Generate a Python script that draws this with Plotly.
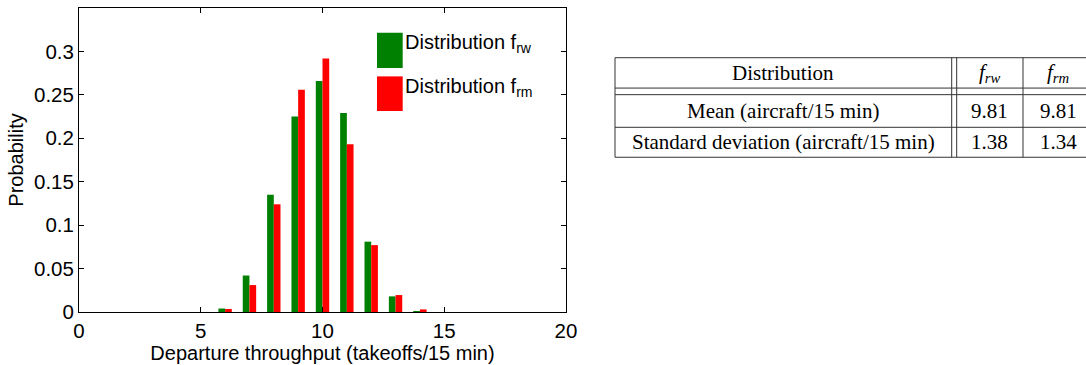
import plotly.graph_objects as go

# ---------------- data ----------------
throughput = list(range(0, 21))
f_rw = [0, 0, 0, 0, 0, 0, 0.004, 0.042, 0.135, 0.225, 0.266, 0.229, 0.081, 0.018, 0.001,
        0, 0, 0, 0, 0, 0]
f_rm = [0, 0, 0, 0, 0, 0, 0.0035, 0.031, 0.124, 0.256, 0.292, 0.193, 0.077, 0.0195, 0.003,
        0, 0, 0, 0, 0, 0]
series_names = ["Distribution f<sub>rw</sub>", "Distribution f<sub>rm</sub>"]
series_colors = ["#008000", "#ff0000"]
y_ticks = [0, 0.05, 0.1, 0.15, 0.2, 0.25, 0.3]
x_ticks = [0, 5, 10, 15, 20]

table_header = ["Distribution", "<i>f<sub>rw</sub></i>", "<i>f<sub>rm</sub></i>"]
table_rows = [
    ["Mean (aircraft/15 min)", "9.81", "9.81"],
    ["Standard deviation (aircraft/15 min)", "1.38", "1.34"],
]

# ---------------- layout geometry (pixels) ----------------
W, H = 1086, 365
PL, PR, PT, PB = 79, 566, 7.5, 312   # plot area in pixels


def px_x(px):
    return (px - PL) / (PR - PL)


def px_y(py):
    return (PB - py) / (PB - PT)


fig = go.Figure()
for name, vals, col in zip(series_names, [f_rw, f_rm], series_colors):
    fig.add_trace(go.Bar(x=throughput, y=vals, name=name, marker_color=col,
                         marker_line_width=0, showlegend=False))

sans = "Liberation Sans, Arial, Helvetica, sans-serif"
serif = "Liberation Serif, Times New Roman, serif"

fig.update_layout(
    width=W, height=H,
    margin=dict(l=PL, r=W - PR, t=PT, b=H - PB, pad=0),
    paper_bgcolor="white", plot_bgcolor="white",
    barmode="group", bargap=0.45, bargroupgap=0,
    font=dict(family=sans, size=20, color="black"),
    xaxis=dict(range=[0, 20], tickvals=x_ticks, ticks="inside", ticklen=5,
               tickcolor="black", showline=True, linecolor="black", linewidth=1,
               mirror="allticks", showgrid=False, zeroline=False,
               tickfont=dict(size=20.5),
               title=dict(text="Departure throughput (takeoffs/15 min)",
                          font=dict(size=20), standoff=2)),
    yaxis=dict(range=[0, 0.35], tickvals=y_ticks, ticks="inside", ticklen=5,
               tickcolor="black", showline=True, linecolor="black", linewidth=1,
               mirror="allticks", showgrid=False, zeroline=False,
               tickfont=dict(size=20.5),
               title=dict(text="Probability", font=dict(size=20), standoff=4)),
)

# ---------------- custom legend ----------------
legend_boxes = [(32.3, 67.7), (76, 110.7)]
legend_text_y = [43.5, 87.5]
for (y0, y1), ty, name, col in zip(legend_boxes, legend_text_y, series_names, series_colors):
    fig.add_shape(type="rect", xref="paper", yref="paper",
                  x0=px_x(377), x1=px_x(402.7), y0=px_y(y1), y1=px_y(y0),
                  fillcolor=col, line=dict(width=0), layer="above")
    fig.add_annotation(xref="paper", yref="paper", x=px_x(403), y=px_y(ty),
                       xanchor="left", yanchor="middle", text=name, showarrow=False,
                       font=dict(family=sans, size=20, color="black"))

# ---------------- table ----------------
line_col = "#333333"
TL, TR = 615, 1093
hlines = [57.3, 87.7, 94.3, 127, 157]
vlines = [TL, 951.7, 956.7, 1023, TR]
for y in hlines:
    fig.add_shape(type="line", xref="paper", yref="paper",
                  x0=px_x(TL), x1=px_x(TR), y0=px_y(y), y1=px_y(y),
                  line=dict(color=line_col, width=1))
for x in vlines:
    fig.add_shape(type="line", xref="paper", yref="paper",
                  x0=px_x(x), x1=px_x(x), y0=px_y(hlines[0]), y1=px_y(hlines[-1]),
                  line=dict(color=line_col, width=1))

col_centers = [(TL + 951.7) / 2, (956.7 + 1023) / 2, (1023 + TR) / 2]
row_centers = [(hlines[0] + hlines[1]) / 2, (hlines[2] + hlines[3]) / 2,
               (hlines[3] + hlines[4]) / 2]
for r, row in enumerate([table_header] + table_rows):
    for c, txt in enumerate(row):
        fig.add_annotation(xref="paper", yref="paper", x=px_x(col_centers[c]),
                           y=px_y(row_centers[r]), xanchor="center", yanchor="middle",
                           text=txt, showarrow=False,
                           font=dict(family=serif, size=21, color="black"))

fig.write_html("out.html", config={"displayModeBar": False},
               post_script="document.body.style.margin='0';document.body.style.overflow='hidden';")
